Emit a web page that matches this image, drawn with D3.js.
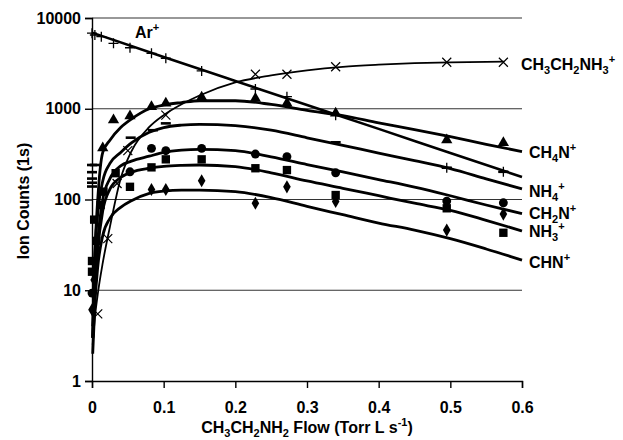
<!DOCTYPE html>
<html><head><meta charset="utf-8">
<script src="https://cdn.jsdelivr.net/npm/d3@7"></script>
<style>
html,body{margin:0;padding:0;background:#fff;}
svg{display:block;font-family:"Liberation Sans",Arial,sans-serif;font-weight:bold;}
</style></head>
<body><svg id="chart" width="623" height="440"></svg>
<script>
// ---------- data ----------
const xTicks = [0, 0.1, 0.2, 0.3, 0.4, 0.5, 0.6];
const yTicks = [1, 10, 100, 1000, 10000];

// measured points [flow, counts]
const arPts     = [[0,6800],[0.004,6500],[0.013,6220],[0.03,5260],[0.053,4700],[0.083,4080],[0.103,3600],[0.153,2610],[0.228,1650],[0.272,1360],[0.34,850],[0.495,224],[0.574,202]];
const ethPts    = [[0.008,5.5],[0.022,37],[0.035,150],[0.05,345],[0.103,850],[0.228,2400],[0.272,2400],[0.34,2900],[0.495,3250],[0.574,3250]];
const ch4nPts   = [[0.015,370],[0.03,752],[0.053,832],[0.083,1055],[0.103,1150],[0.153,1340],[0.228,1300],[0.272,1150],[0.34,890],[0.495,453],[0.574,423]];
const nh4Pts    = [[0,240],[0,200],[0,170],[0,153],[0,139],[0.004,240],[0.054,480],[0.085,580],[0.103,690],[0.34,427],[0.495,224],[0.574,202]];
const ch2nPts   = [[0,9.3],[0.053,202],[0.083,366],[0.103,345],[0.153,366],[0.228,317],[0.272,297],[0.34,197],[0.495,96],[0.574,92]];
const nh3Pts    = [[0,21],[0,16],[0.003,60],[0.006,35],[0.012,87],[0.016,122],[0.033,195],[0.053,138],[0.083,226],[0.103,277],[0.153,277],[0.228,221],[0.272,211],[0.34,112],[0.495,80],[0.574,43]];
const chnPts    = [[0,6.1],[0.003,13],[0.083,129],[0.103,129],[0.153,161],[0.228,91],[0.272,138],[0.34,95],[0.495,46],[0.574,69]];

// fitted curves [flow, counts]
const arFit   = [[0,6900],[0.1,3720],[0.2,2020],[0.3,1100],[0.4,600],[0.5,325],[0.6,177]];
const ethFit  = [[0.001,2.5],[0.004,5],[0.008,9],[0.015,20],[0.025,50],[0.04,170],[0.055,340],[0.08,630],[0.1,850],[0.125,1120],[0.15,1400],[0.2,1950],[0.25,2330],[0.3,2650],[0.35,2900],[0.4,3060],[0.45,3180],[0.5,3250],[0.575,3300]];
const ch4nFit = [[0.001,3],[0.004,25],[0.008,100],[0.015,330],[0.025,450],[0.04,620],[0.055,770],[0.08,1000],[0.1,1100],[0.125,1170],[0.15,1225],[0.2,1225],[0.25,1115],[0.3,960],[0.35,840],[0.4,700],[0.45,590],[0.5,493],[0.55,405],[0.6,337]];
const nh4Fit  = [[0.001,4],[0.004,25],[0.008,70],[0.015,160],[0.025,250],[0.04,330],[0.055,420],[0.08,550],[0.1,620],[0.125,660],[0.15,674],[0.2,650],[0.25,580],[0.3,479],[0.35,395],[0.4,325],[0.45,268],[0.5,219],[0.55,169],[0.6,131]];
const ch2nFit = [[0.001,3],[0.004,12],[0.008,35],[0.015,100],[0.025,170],[0.04,235],[0.055,265],[0.08,300],[0.1,330],[0.125,350],[0.15,357],[0.2,345],[0.25,295],[0.3,243],[0.35,201],[0.4,166],[0.45,137],[0.5,110],[0.55,87],[0.6,70]];
const nh3Fit  = [[0.001,3],[0.004,10],[0.008,28],[0.015,75],[0.025,130],[0.04,175],[0.055,200],[0.08,221],[0.1,232],[0.125,238],[0.15,240],[0.2,230],[0.25,197],[0.3,160],[0.35,133],[0.4,110],[0.45,91],[0.5,76],[0.55,59],[0.6,45]];
const chnFit  = [[0.001,2],[0.004,7],[0.008,18],[0.015,40],[0.025,62],[0.04,82],[0.055,97],[0.08,117],[0.1,124],[0.125,127],[0.15,127],[0.2,122],[0.25,105],[0.3,84],[0.35,68],[0.4,55],[0.45,46],[0.5,37],[0.55,28.5],[0.6,21.5]];

// ---------- drawing ----------
const svg = d3.select("#chart");
const x = d3.scaleLinear().domain([0, 0.6]).range([92, 522]);
const y = d3.scaleLog().domain([1, 10000]).range([381, 18]);

// gridlines
svg.append("g").selectAll("line").data(yTicks.slice(1)).join("line")
  .attr("x1", x(0)).attr("x2", x(0.6))
  .attr("y1", d => y(d)).attr("y2", d => y(d))
  .attr("stroke", "#333").attr("stroke-width", 1.2);

// axes
const yAxis = svg.append("g").attr("transform", `translate(${x(0)},0)`)
  .call(d3.axisLeft(y).tickValues(yTicks).tickFormat(d3.format("d")).tickSize(7).tickPadding(4));
const xAxis = svg.append("g").attr("transform", `translate(0,${y(1)})`)
  .call(d3.axisBottom(x).tickValues(xTicks).tickFormat(d => d === 0 ? "0" : d3.format(".1f")(d)).tickSize(7).tickPadding(14));
[yAxis, xAxis].forEach(g => {
  g.select(".domain").attr("stroke", "#000").attr("stroke-width", 1.4);
  g.selectAll(".tick line").attr("stroke", "#000").attr("stroke-width", 1.4);
  g.selectAll("text").attr("font-size", 16).attr("font-weight", "bold")
    .attr("font-family", '"Liberation Sans", Arial, sans-serif').attr("fill", "#000");
});

// fit lines
const line = d3.line().x(d => x(d[0])).y(d => y(d[1])).curve(d3.curveMonotoneX);
const fits = [
  [arFit, 2.6], [ethFit, 1.8], [ch4nFit, 2.8], [nh4Fit, 2.8], [ch2nFit, 2.8], [nh3Fit, 2.8], [chnFit, 2.8]
];
svg.append("g").selectAll("path").data(fits).join("path")
  .attr("d", d => line(d[0])).attr("fill", "none")
  .attr("stroke", "#000").attr("stroke-width", d => d[1]).attr("stroke-linejoin", "round");

// markers
const mk = svg.append("g");
function plus(data, s) {
  mk.append("g").selectAll("path").data(data).join("path")
    .attr("d", d => `M${x(d[0])-s},${y(d[1])}h${2*s}M${x(d[0])},${y(d[1])-s}v${2*s}`)
    .attr("stroke", "#000").attr("stroke-width", 1.3);
}
function cross(data, s) {
  mk.append("g").selectAll("path").data(data).join("path")
    .attr("d", d => `M${x(d[0])-s},${y(d[1])-s}l${2*s},${2*s}M${x(d[0])-s},${y(d[1])+s}l${2*s},${-2*s}`)
    .attr("stroke", "#000").attr("stroke-width", 1.2);
}
function dash(data, s) {
  mk.append("g").selectAll("rect").data(data).join("rect")
    .attr("x", d => x(d[0]) - s).attr("y", d => y(d[1]) - 1.3)
    .attr("width", 2*s).attr("height", 2.6).attr("fill", "#000");
}
function sym(data, type, size) {
  mk.append("g").selectAll("path").data(data).join("path")
    .attr("transform", d => `translate(${x(d[0])},${y(d[1])})`)
    .attr("d", d3.symbol().type(type).size(size)).attr("fill", "#000");
}
plus(arPts, 5);
cross(ethPts, 4.5);
sym(ch4nPts, d3.symbolTriangle, 55);
dash(nh4Pts, 5);
sym(ch2nPts, d3.symbolCircle, 62);
sym(nh3Pts, d3.symbolSquare, 70);
sym(chnPts, d3.symbolDiamond, 50);

// chemical-formula text with sub/superscripts
function chem(px, py, parts) {
  const t = svg.append("text").attr("x", px).attr("y", py).attr("font-size", 16).attr("fill", "#000");
  let cur = 0;
  parts.forEach(([s, k]) => {
    const ts = t.append("tspan").text(s);
    const target = k === "sub" ? 4 : k === "sup" ? -7 : 0;
    if (k) ts.attr("font-size", 11);
    ts.attr("dy", target - cur);
    cur = target;
  });
  return t;
}
chem(135, 38, [["Ar",""],["+","sup"]]);
chem(521, 70, [["CH",""],["3","sub"],["CH",""],["2","sub"],["NH",""],["3","sub"],["+","sup"]]);
chem(529, 158, [["CH",""],["4","sub"],["N",""],["+","sup"]]);
chem(529, 196.5, [["NH",""],["4","sub"],["+","sup"]]);
chem(529, 219, [["CH",""],["2","sub"],["N",""],["+","sup"]]);
chem(529, 237, [["NH",""],["3","sub"],["+","sup"]]);
chem(529, 268, [["CHN",""],["+","sup"]]);

// axis titles
chem(307, 433, [["CH",""],["3","sub"],["CH",""],["2","sub"],["NH",""],["2","sub"],[" Flow (Torr L s",""],["-1","sup"],[")",""]])
  .attr("text-anchor", "middle");
svg.append("text").attr("transform", "translate(29,201) rotate(-90)")
  .attr("text-anchor", "middle").attr("font-size", 16).attr("fill", "#000")
  .text("Ion Counts (1s)");
</script>
</body></html>
